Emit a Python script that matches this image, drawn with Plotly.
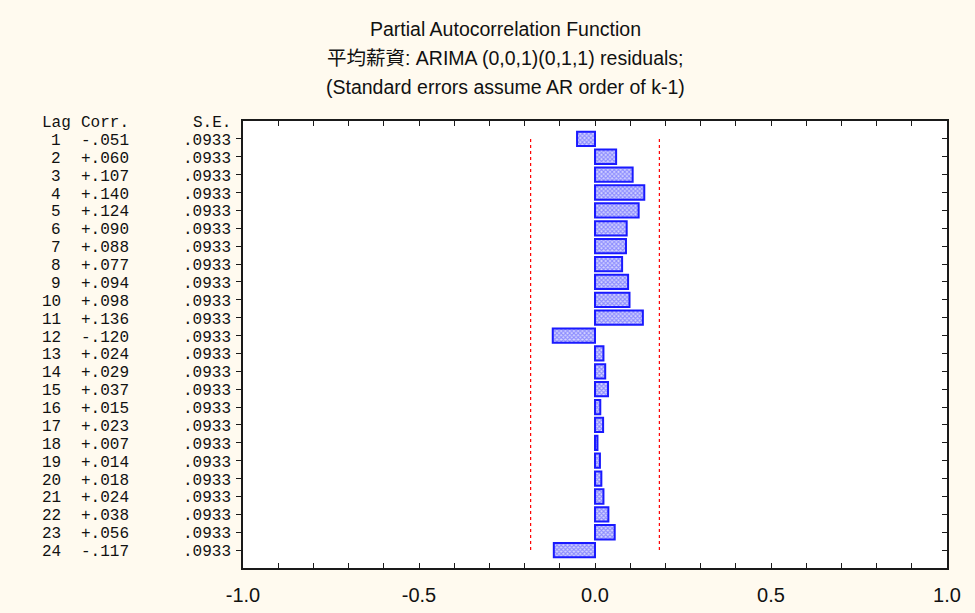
import plotly.graph_objects as go

# ---- data ----
lags = list(range(1, 25))
corr = [-0.051, 0.060, 0.107, 0.140, 0.124, 0.090, 0.088, 0.077, 0.094, 0.098,
        0.136, -0.120, 0.024, 0.029, 0.037, 0.015, 0.023, 0.007, 0.014, 0.018,
        0.024, 0.038, 0.056, -0.117]
se = [0.0933, 0.0933, 0.0933, 0.0933, 0.0933, 0.0933, 0.0933, 0.0933,
      0.0933, 0.0933, 0.0933, 0.0933, 0.0933, 0.0933, 0.0933, 0.0933,
      0.0933, 0.0933, 0.0933, 0.0933, 0.0933, 0.0933, 0.0933, 0.0933]
x_tickvals = [-1.0, -0.5, 0.0, 0.5, 1.0]
x_ticktext = ["-1.0", "-0.5", "0.0", "0.5", "1.0"]
title_lines = ["Partial Autocorrelation Function",
               "平均薪資: ARIMA (0,0,1)(0,1,1) residuals;",
               "(Standard errors assume AR order of k-1)"]
col_headers = ["Lag", "Corr.", "S.E."]


def fmt_corr(c):
    s = f"{abs(c):.3f}"[1:]
    return ("-" if c < 0 else "+") + s


def fmt_se(s):
    return f"{s:.4f}"[1:]


crit = 1.96 * se[0]

W, H = 975, 613
L, R, T, B = 243, 28, 121, 45
plot_w = W - L - R
plot_h = H - T - B

SANS = "Liberation Sans, Arial, Noto Sans CJK TC, sans-serif"
MONO = "Liberation Mono, Courier New, monospace"


def px_to_paper_x(px):
    return (px - L) / plot_w


fig = go.Figure()

fig.add_trace(go.Bar(
    x=corr, y=lags, orientation="h", width=0.8,
    marker=dict(
        color="#a8a8ff",
        line=dict(color="#1a1aff", width=2),
        pattern=dict(shape="x", size=3, solidity=0.6,
                     fgcolor="#4545ff", bgcolor="#d4d4ff"),
    ),
    showlegend=False, hoverinfo="skip",
))

for cx in (-crit, crit):
    fig.add_trace(go.Scatter(
        x=[cx, cx], y=[lags[0], lags[-1]], mode="lines",
        line=dict(color="#ff0000", width=1.2, dash="dot"),
        showlegend=False, hoverinfo="skip",
    ))

# invisible trace to anchor right-hand y axis
fig.add_trace(go.Scatter(x=[None], y=[None], yaxis="y2", showlegend=False,
                         hoverinfo="skip"))

line_color = "#1a1a1a"

fig.update_layout(
    width=W, height=H,
    margin=dict(l=L, r=R, t=T, b=B, pad=0, autoexpand=False),
    paper_bgcolor="#fffaef",
    plot_bgcolor="#ffffff",
    bargap=0.2,
    xaxis=dict(
        range=[-1, 1], tickvals=x_tickvals, ticktext=x_ticktext,
        ticks="inside", ticklen=5, tickcolor=line_color, tickwidth=1,
        minor=dict(dtick=0.1, tick0=0, ticks="inside", ticklen=5,
                   tickcolor=line_color, tickwidth=1, showgrid=False),
        showline=True, linecolor=line_color, linewidth=1.5,
        mirror="allticks", showgrid=False, zeroline=False,
        tickfont=dict(family=SANS, size=20, color="#111111"),
        ticklabelstandoff=8, automargin=False,
    ),
    yaxis=dict(
        range=[25, 0], tickvals=lags,
        ticks="outside", ticklen=5, tickcolor=line_color, tickwidth=1,
        showticklabels=False,
        showline=True, linecolor=line_color, linewidth=1.5,
        mirror=True, showgrid=False, zeroline=False, automargin=False,
    ),
    yaxis2=dict(
        overlaying="y", side="right", range=[25, 0], tickvals=lags,
        ticks="inside", ticklen=5, tickcolor=line_color, tickwidth=1,
        showticklabels=False, showline=True, linecolor=line_color,
        linewidth=1.5, showgrid=False, zeroline=False, automargin=False,
    ),
)

# ---- left-hand table: Lag / Corr. / S.E. columns ----
TFONT = dict(family=MONO, size=16, color="#111111")
lag_right_px, corr_center_px, se_right_px = 63, 105, 233
ysh = -2

fig.add_annotation(text=col_headers[0], xref="paper", yref="y",
                   x=px_to_paper_x(40), y=0, xanchor="left", yanchor="middle",
                   showarrow=False, font=TFONT, yshift=ysh)
fig.add_annotation(text=col_headers[1], xref="paper", yref="y",
                   x=px_to_paper_x(corr_center_px), y=0, xanchor="center",
                   yanchor="middle", showarrow=False, font=TFONT, yshift=ysh)
fig.add_annotation(text=col_headers[2], xref="paper", yref="y",
                   x=px_to_paper_x(se_right_px), y=0, xanchor="right",
                   yanchor="middle", showarrow=False, font=TFONT, yshift=ysh)

for lag, c, s in zip(lags, corr, se):
    fig.add_annotation(text=str(lag), xref="paper", yref="y",
                       x=px_to_paper_x(lag_right_px), y=lag, xanchor="right",
                       yanchor="middle", showarrow=False, font=TFONT,
                       yshift=ysh)
    fig.add_annotation(text=fmt_corr(c), xref="paper", yref="y",
                       x=px_to_paper_x(corr_center_px), y=lag,
                       xanchor="center", yanchor="middle", showarrow=False,
                       font=TFONT, yshift=ysh)
    fig.add_annotation(text=fmt_se(s), xref="paper", yref="y",
                       x=px_to_paper_x(se_right_px), y=lag, xanchor="right",
                       yanchor="middle", showarrow=False, font=TFONT,
                       yshift=ysh)

title_y_px = [29, 58, 87]
for txt, ypx in zip(title_lines, title_y_px):
    fig.add_annotation(
        text=txt, xref="paper", yref="paper",
        x=px_to_paper_x(505), y=1 + (T - ypx) / plot_h,
        xanchor="center", yanchor="middle", showarrow=False,
        font=dict(family=SANS, size=19.5, color="#111111"),
    )

fig.write_html("out.html")
